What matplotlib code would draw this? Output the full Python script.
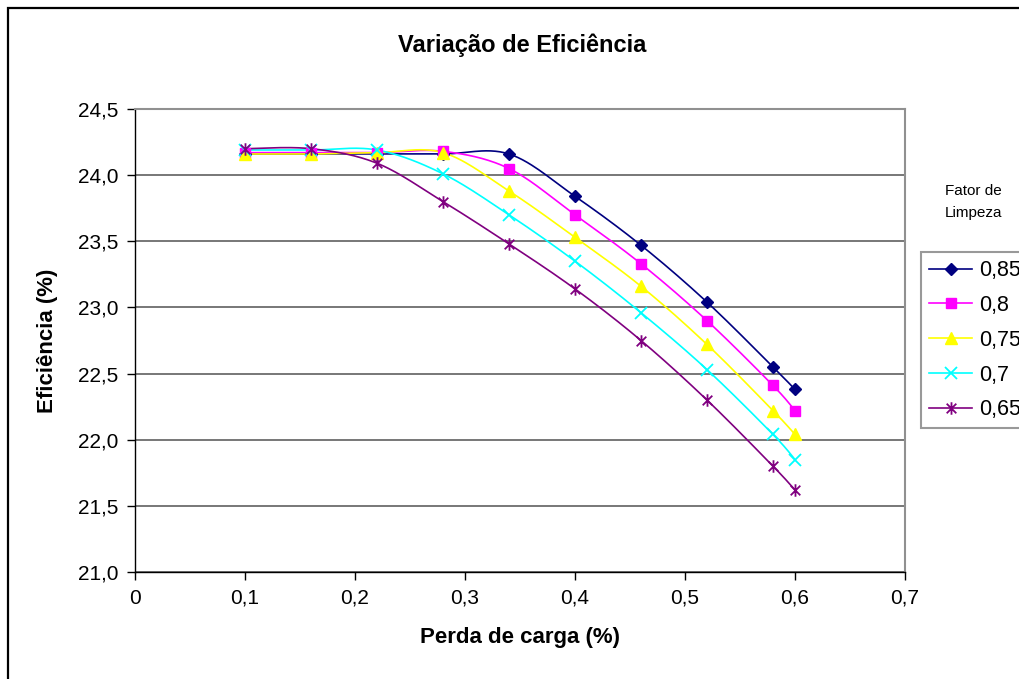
import numpy as np
import matplotlib
matplotlib.use("Agg")
import matplotlib.pyplot as plt
from matplotlib.path import Path
from matplotlib.lines import Line2D

plt.rcParams['font.family'] = ['Liberation Sans', 'DejaVu Sans']

perda = [0.1, 0.16, 0.22, 0.28, 0.34, 0.4, 0.46, 0.52, 0.58, 0.6]
fatores = ['0,85', '0,8', '0,75', '0,7', '0,65']
ef_085 = [24.16, 24.16, 24.16, 24.16, 24.16, 23.84, 23.47, 23.04, 22.55, 22.38]
ef_080 = [24.17, 24.17, 24.17, 24.18, 24.05, 23.70, 23.33, 22.90, 22.41, 22.22]
ef_075 = [24.16, 24.16, 24.17, 24.17, 23.88, 23.53, 23.16, 22.72, 22.22, 22.04]
ef_070 = [24.19, 24.19, 24.19, 24.01, 23.70, 23.35, 22.96, 22.53, 22.04, 21.85]
ef_065 = [24.20, 24.20, 24.09, 23.80, 23.48, 23.14, 22.75, 22.30, 21.80, 21.62]
series = [ef_085, ef_080, ef_075, ef_070, ef_065]

cores = ['#000080', '#FF00FF', '#FFFF00', '#00FFFF', '#800080']

# asterisco estilo Excel (x + traço vertical)
asterisco = Path([(-1, -1), (1, 1), (-1, 1), (1, -1), (0, -1.3), (0, 1.3)],
                 [Path.MOVETO, Path.LINETO, Path.MOVETO, Path.LINETO, Path.MOVETO, Path.LINETO])
marcadores = ['D', 's', '^', 'x', asterisco]
tamanhos = [6.5, 7, 8, 8, 9]
espessuras = [1, 1, 1, 1.3, 1.3]


def suavizar(x, y, n=30):
    # linha suavizada tipo Excel (Catmull-Rom -> Bezier)
    p = np.column_stack([x, y]).astype(float)
    p = np.vstack([p[0], p, p[-1]])
    xs, ys = [], []
    t = np.linspace(0, 1, n)
    for i in range(1, len(p) - 2):
        p0, p1, p2, p3 = p[i - 1], p[i], p[i + 1], p[i + 2]
        c1 = p1 + (p2 - p0) / 6
        c2 = p2 - (p3 - p1) / 6
        b = ((1 - t) ** 3)[:, None] * p1 + (3 * (1 - t) ** 2 * t)[:, None] * c1 \
            + (3 * (1 - t) * t ** 2)[:, None] * c2 + (t ** 3)[:, None] * p2
        xs.extend(b[:, 0])
        ys.extend(b[:, 1])
    return xs, ys


fig = plt.figure(figsize=(10.2, 6.79), dpi=100)
ax = fig.add_axes([135 / 1020, 1 - 572 / 679, 770 / 1020, 463 / 679])

handles = []
for ef, cor, mk, ms, mw, lab in zip(series, cores, marcadores, tamanhos, espessuras, fatores):
    sx, sy = suavizar(perda, ef)
    ax.plot(sx, sy, color=cor, lw=1.2, zorder=3)
    ax.plot(perda, ef, ls='none', marker=mk, ms=ms, color=cor, mec=cor, mew=mw, zorder=4)
    handles.append(Line2D([], [], color=cor, lw=1.2, marker=mk, ms=ms, mec=cor, mew=mw, label=lab))

ax.set_xlim(0, 0.7)
ax.set_ylim(21.0, 24.5)
ax.set_xticks(np.arange(0, 0.71, 0.1))
ax.set_xticklabels(['0', '0,1', '0,2', '0,3', '0,4', '0,5', '0,6', '0,7'], fontsize=15)
ax.set_yticks(np.arange(21.0, 24.51, 0.5))
ax.set_yticklabels([('%.1f' % v).replace('.', ',') for v in np.arange(21.0, 24.51, 0.5)], fontsize=15)
ax.tick_params(direction='out', length=6, width=1, pad=6)
ax.yaxis.grid(True, color='#606060', lw=1.2)
ax.set_axisbelow(True)
for s in ['top', 'right']:
    ax.spines[s].set_color('#909090')
    ax.spines[s].set_linewidth(1.5)
for s in ['left', 'bottom']:
    ax.spines[s].set_color('black')
    ax.spines[s].set_linewidth(1)

ax.set_xlabel('Perda de carga (%)', fontsize=16, fontweight='bold', labelpad=14)
ax.set_ylabel('Eficiência (%)', fontsize=16, fontweight='bold', labelpad=14)
fig.text(522 / 1020, 1 - 45 / 679, 'Variação de Eficiência', fontsize=17,
         fontweight='bold', ha='center', va='center')

fig.text(973 / 1020, 1 - 202 / 679, 'Fator de\nLimpeza', fontsize=11,
         ha='center', va='center', linespacing=1.8)

leg = fig.legend(handles=handles, loc='upper left', bbox_to_anchor=(921 / 1020, 1 - 252 / 679),
                 fontsize=15.5, frameon=True, fancybox=False, edgecolor='#808080',
                 handlelength=2.0, handletextpad=0.3, labelspacing=0.64, borderpad=0.38,
                 borderaxespad=0)
leg.get_frame().set_linewidth(1.5)

# borda externa do gráfico
fig.add_artist(plt.Rectangle((8 / 1020, -0.1), 1.2, 1.1 - 8 / 679, transform=fig.transFigure,
                             fill=False, edgecolor='black', lw=1.6))

fig.savefig('out.png', dpi=100)
